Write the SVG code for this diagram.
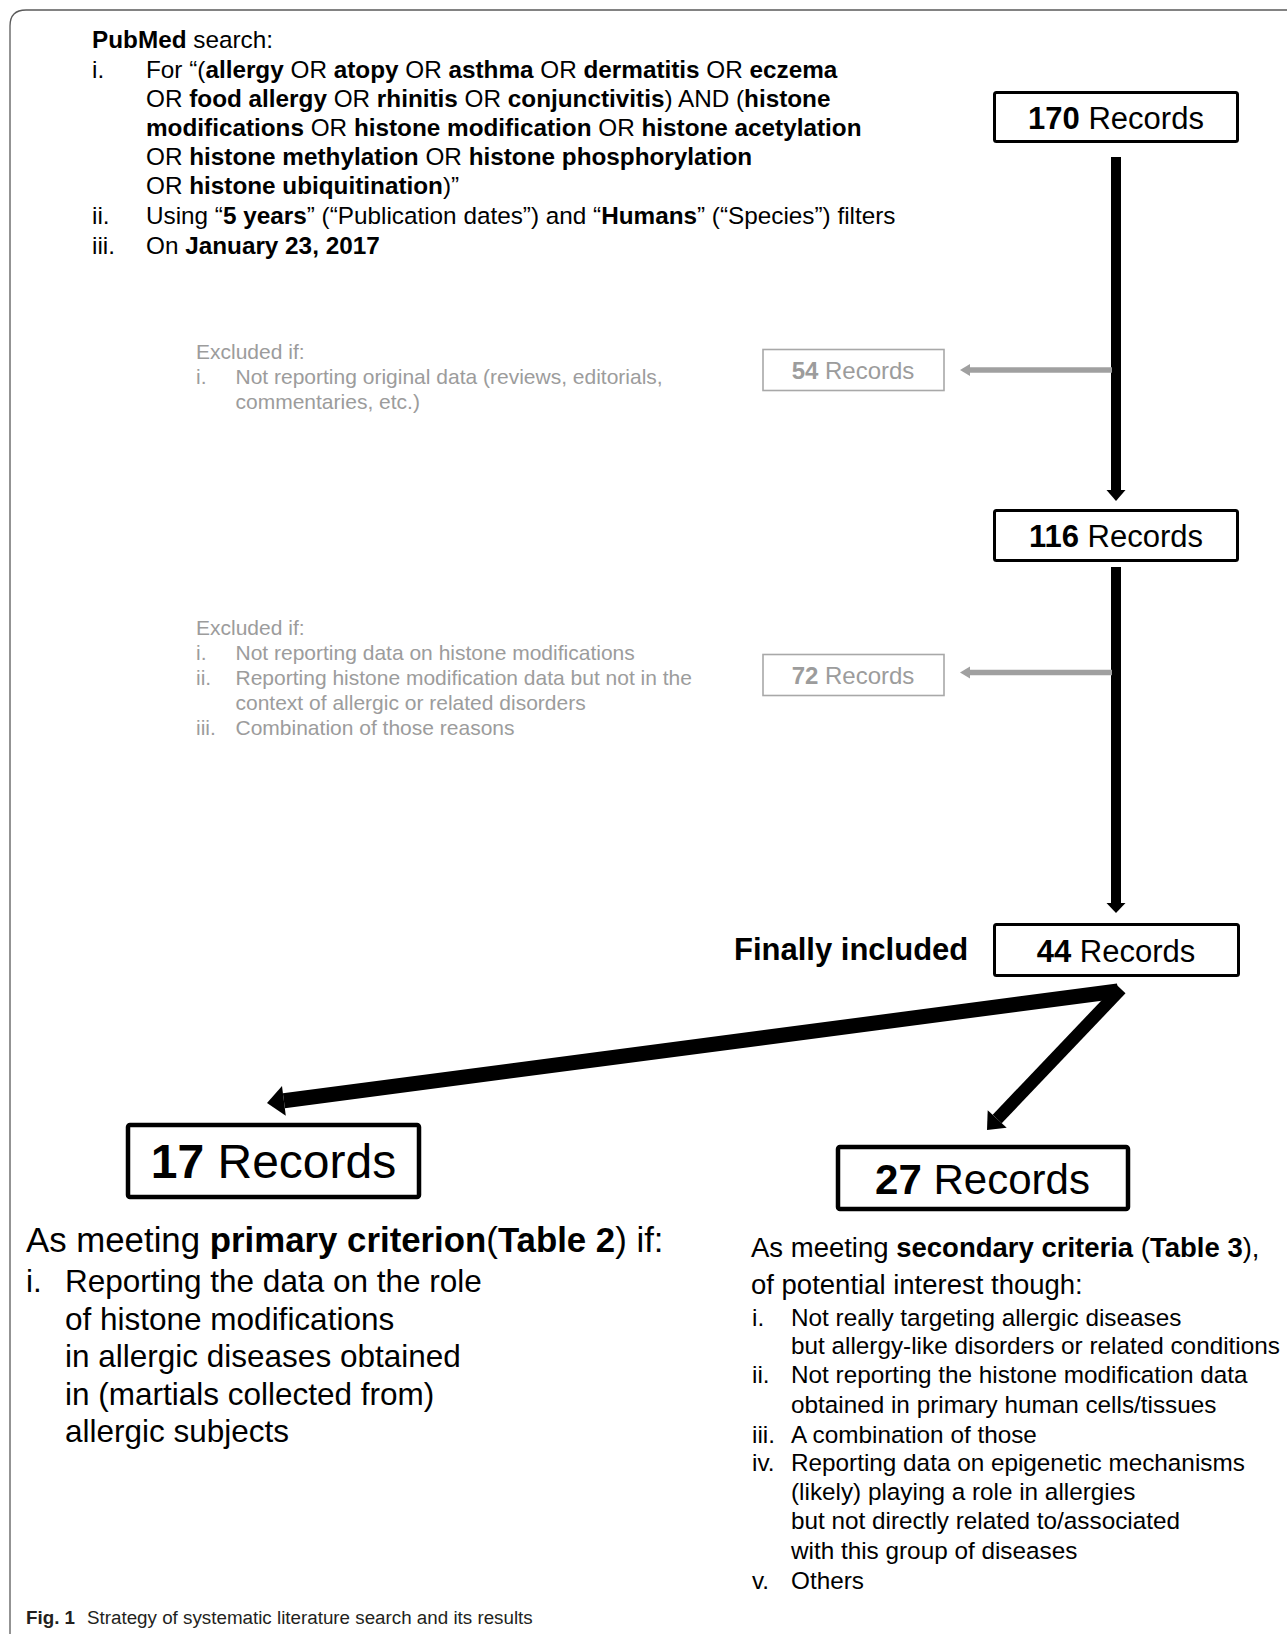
<svg xmlns="http://www.w3.org/2000/svg" width="1287" height="1634" viewBox="0 0 1287 1634">
<style>
text { font-family: "Liberation Sans", Arial, sans-serif; fill: #000; }
.b { font-weight: bold; }
.s24 { font-size: 24.3px; }
.g { fill: #9c9c9c; font-size: 21px; }
.box { fill: #fff; stroke: #000; stroke-width: 3; }
.bigbox { fill: #fff; stroke: #000; stroke-width: 4.5; }
.gbox { fill: #fff; stroke: #a8a8a8; stroke-width: 1.6; }
.rec { font-size: 31px; text-anchor: middle; }
.grec { font-size: 24px; text-anchor: middle; fill: #9c9c9c; }
.cap { font-size: 18.8px; fill: #231f20; }
</style>
<rect width="1287" height="1634" fill="#fff"/>
<path d="M10,1634 V26 Q10,10 26,10 H1287" fill="none" stroke="#5a5a5a" stroke-width="1.3"/>

<g id="search-text">
<text class="s24" x="92" y="48"><tspan class="b">PubMed</tspan> search:</text>
<text class="s24" x="92" y="77.5">i.</text>
<text class="s24" x="146" y="77.5">For “(<tspan class="b">allergy</tspan> OR <tspan class="b">atopy</tspan> OR <tspan class="b">asthma</tspan> OR <tspan class="b">dermatitis</tspan> OR <tspan class="b">eczema</tspan></text>
<text class="s24" x="146" y="106.5">OR <tspan class="b">food allergy</tspan> OR <tspan class="b">rhinitis</tspan> OR <tspan class="b">conjunctivitis</tspan>) AND (<tspan class="b">histone</tspan></text>
<text class="s24" x="146" y="135.5"><tspan class="b">modifications</tspan> OR <tspan class="b">histone modification</tspan> OR <tspan class="b">histone acetylation</tspan></text>
<text class="s24" x="146" y="165">OR <tspan class="b">histone methylation</tspan> OR <tspan class="b">histone phosphorylation</tspan></text>
<text class="s24" x="146" y="194">OR <tspan class="b">histone ubiquitination</tspan>)”</text>
<text class="s24" x="92" y="224">ii.</text>
<text class="s24" x="146" y="224">Using “<tspan class="b">5 years</tspan>” (“Publication dates”) and “<tspan class="b">Humans</tspan>” (“Species”) filters</text>
<text class="s24" x="92" y="253.5">iii.</text>
<text class="s24" x="146" y="253.5">On <tspan class="b">January 23, 2017</tspan></text>
</g>

<g id="connectors">
<rect x="1111" y="157" width="10" height="334"/>
<polygon points="1106.5,490 1125.5,490 1116,501"/>
<rect x="1111" y="567" width="10" height="337"/>
<polygon points="1106.5,903 1125.5,903 1116,913"/>
<line x1="1112" y1="370" x2="968" y2="370" stroke="#a0a0a0" stroke-width="5.5"/>
<polygon points="970,364 970,376 960,370" fill="#a0a0a0"/>
<line x1="1112" y1="672.5" x2="968" y2="672.5" stroke="#a0a0a0" stroke-width="5.5"/>
<polygon points="970,666.5 970,678.5 960,672.5" fill="#a0a0a0"/>
<line x1="1118" y1="991" x2="283.9" y2="1100.8" stroke="#000" stroke-width="15"/>
<polygon points="267,1103 282,1085.9 285.8,1115.7"/>
<line x1="1121" y1="989" x2="997.2" y2="1119" stroke="#000" stroke-width="12.5"/>
<polygon points="987,1130 987.7,1110.2 1006.7,1127.8"/>
</g>

<g id="n170">
<rect class="box" x="994.5" y="92.5" width="243" height="49" rx="2"/>
<text class="rec" x="1116" y="129"><tspan class="b">170</tspan> Records</text>
</g>

<g id="excl1">
<text class="g" x="196" y="358.5">Excluded if:</text>
<text class="g" x="196" y="383.5">i.</text>
<text class="g" x="235.5" y="383.5">Not reporting original data (reviews, editorials,</text>
<text class="g" x="235.5" y="408.5">commentaries, etc.)</text>
</g>

<g id="n54">
<rect class="gbox" x="763" y="349.5" width="181" height="41"/>
<text class="grec" x="853" y="378.5"><tspan class="b">54</tspan> Records</text>
</g>

<g id="n116">
<rect class="box" x="994.5" y="510.5" width="243" height="50" rx="2"/>
<text class="rec" x="1116" y="547"><tspan class="b">116</tspan> Records</text>
</g>

<g id="excl2">
<text class="g" x="196" y="635">Excluded if:</text>
<text class="g" x="196" y="660">i.</text>
<text class="g" x="235.5" y="660">Not reporting data on histone modifications</text>
<text class="g" x="196" y="685">ii.</text>
<text class="g" x="235.5" y="685">Reporting histone modification data but not in the</text>
<text class="g" x="235.5" y="710">context of allergic or related disorders</text>
<text class="g" x="196" y="735">iii.</text>
<text class="g" x="235.5" y="735">Combination of those reasons</text>
</g>

<g id="n72">
<rect class="gbox" x="763" y="654.5" width="181" height="41"/>
<text class="grec" x="853" y="684"><tspan class="b">72</tspan> Records</text>
</g>

<g id="n44">
<text class="b" x="734" y="960" font-size="31">Finally included</text>
<rect class="box" x="994.5" y="924.5" width="244" height="51" rx="2"/>
<text class="rec" x="1116" y="962"><tspan class="b">44</tspan> Records</text>
</g>

<g id="n17">
<rect class="bigbox" x="128" y="1125" width="291" height="72" rx="2"/>
<text x="273.5" y="1178" font-size="48" text-anchor="middle"><tspan class="b">17</tspan> Records</text>
</g>

<g id="n27">
<rect class="bigbox" x="838" y="1147" width="290" height="62" rx="2"/>
<text x="982.5" y="1193.5" font-size="42" text-anchor="middle"><tspan class="b">27</tspan> Records</text>
</g>

<g id="crit1">
<text x="26" y="1252" font-size="34.8">As meeting <tspan class="b">primary criterion</tspan>(<tspan class="b">Table 2</tspan>) if:</text>
<text x="26" y="1292" font-size="31.5">i.</text>
<text x="65" y="1292" font-size="31.5">Reporting the data on the role</text>
<text x="65" y="1329.5" font-size="31.5">of histone modifications</text>
<text x="65" y="1367" font-size="31.5">in allergic diseases obtained</text>
<text x="65" y="1404.5" font-size="31.5">in (martials collected from)</text>
<text x="65" y="1442" font-size="31.5">allergic subjects</text>
</g>

<g id="crit2" font-size="24.3">
<text x="751" y="1257" font-size="27.5">As meeting <tspan class="b">secondary criteria</tspan> (<tspan class="b">Table 3</tspan>),</text>
<text x="751" y="1293.5" font-size="27.5">of potential interest though:</text>
<text x="752" y="1326">i.</text>
<text x="791" y="1326">Not really targeting allergic diseases</text>
<text x="791" y="1354">but allergy-like disorders or related conditions</text>
<text x="752" y="1383">ii.</text>
<text x="791" y="1383">Not reporting the histone modification data</text>
<text x="791" y="1412.5">obtained in primary human cells/tissues</text>
<text x="752" y="1442.5">iii.</text>
<text x="791" y="1442.5">A combination of those</text>
<text x="752" y="1471">iv.</text>
<text x="791" y="1471">Reporting data on epigenetic mechanisms</text>
<text x="791" y="1500">(likely) playing a role in allergies</text>
<text x="791" y="1529">but not directly related to/associated</text>
<text x="791" y="1559">with this group of diseases</text>
<text x="752" y="1588.5">v.</text>
<text x="791" y="1588.5">Others</text>
</g>

<g id="caption">
<text class="cap b" x="26" y="1624">Fig. 1</text>
<text class="cap" x="87" y="1624">Strategy of systematic literature search and its results</text>
</g>
</svg>
